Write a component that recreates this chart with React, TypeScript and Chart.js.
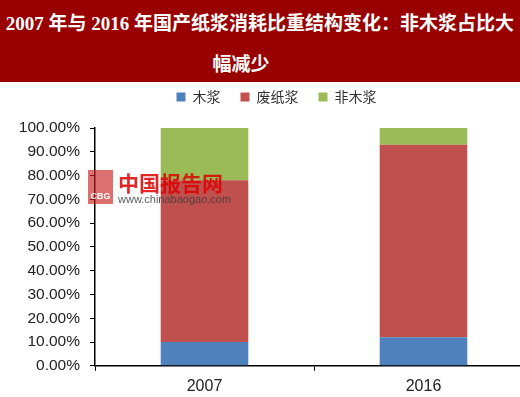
import React, { useEffect, useRef } from "react";
import { Chart, registerables } from "chart.js";

Chart.register(...registerables);

const categories = ["2007", "2016"];
const seriesNames = ["木浆", "废纸浆", "非木浆"];
const woodPulp = [10, 12];
const wastePaperPulp = [68, 81];
const nonWoodPulp = [22, 7];
const seriesColors = ["#4F81BD", "#C0504D", "#9BBB59"];
const titleLine1 = "2007 年与 2016 年国产纸浆消耗比重结构变化：非木浆占比大";
const titleLine2 = "幅减少";

const legendTweak = {
  id: "legendTweak",
  beforeInit(chart: any) {
    const legend = chart.legend;
    if (!legend) return;
    const origFit = legend.fit;
    legend.fit = function () {
      origFit.call(this);
      this.height += 14;
    };
  },
  afterLayout(chart: any) {
    const legend = chart.legend;
    if (!legend) return;
    legend.left += 10;
    legend.right += 10;
  },
};

export default function App() {
  const canvasRef = useRef<HTMLCanvasElement | null>(null);

  useEffect(() => {
    document.body.style.margin = "0";
    const ctx = canvasRef.current;
    if (!ctx) return;
    const chart = new Chart(ctx, {
      type: "bar",
      data: {
        labels: categories,
        datasets: [woodPulp, wastePaperPulp, nonWoodPulp].map((d, i) => ({
          label: seriesNames[i],
          data: d,
          backgroundColor: seriesColors[i],
          borderWidth: 0,
          barPercentage: 1,
          categoryPercentage: 0.4,
        })),
      },
      plugins: [legendTweak],
      options: {
        animation: false,
        responsive: false,
        maintainAspectRatio: false,
        layout: { padding: { top: 3, right: 2, bottom: 2, left: 0 } },
        plugins: {
          legend: {
            position: "top",
            labels: {
              boxWidth: 9,
              boxHeight: 9,
              padding: 20,
              color: "#333",
              font: { family: "'Noto Sans CJK SC'", size: 14 },
            },
          },
          tooltip: { enabled: false },
        },
        scales: {
          x: {
            stacked: true,
            grid: {
              display: true,
              drawOnChartArea: false,
              tickLength: 5,
              color: "#000",
              offset: true,
            },
            border: { color: "#000", width: 1.5 },
            ticks: {
              color: "#222",
              padding: 6,
              font: { family: "'Liberation Sans', Arial", size: 16 },
            },
          },
          y: {
            stacked: true,
            min: 0,
            max: 100,
            afterFit: (s: any) => {
              s.width = 95;
            },
            grid: {
              display: true,
              drawOnChartArea: false,
              tickLength: 5,
              color: "#000",
            },
            border: { color: "#000", width: 1.5 },
            ticks: {
              stepSize: 10,
              color: "#222",
              padding: 10,
              font: { family: "'Liberation Sans', Arial", size: 15.5 },
              callback: (v: any) => Number(v).toFixed(2) + "%",
            },
          },
        },
      },
    });
    return () => chart.destroy();
  }, []);

  return (
    <div style={{ position: "absolute", left: 0, top: 0, width: 520, height: 397, background: "#fff", overflow: "hidden" }}>
      <canvas ref={canvasRef} width={535} height={337} style={{ position: "absolute", left: 0, top: 67, width: 535, height: 337 }} />
      <div
        style={{
          position: "absolute",
          left: 0,
          top: 0,
          width: 520,
          height: 82,
          background: "#990000",
          color: "#fff",
          fontFamily: "'Liberation Serif', 'Noto Sans CJK SC', serif",
          fontWeight: "bold",
          fontSize: 19,
        }}
      >
        <div style={{ position: "absolute", top: 8, left: 0, width: 520, textAlign: "center", whiteSpace: "nowrap" }}>{titleLine1}</div>
        <div style={{ position: "absolute", top: 49, left: 0, width: 482, textAlign: "center", whiteSpace: "nowrap" }}>{titleLine2}</div>
      </div>
      <div style={{ position: "absolute", left: 88, top: 170, width: 25, height: 34, background: "rgba(200,30,30,0.75)", color: "#fff", fontSize: 9, fontWeight: "bold", fontFamily: "'Liberation Sans'", textAlign: "center", lineHeight: "52px", opacity: 0.85 }}>CBG</div>
      <div style={{ position: "absolute", left: 118, top: 170, color: "rgba(220,0,0,0.85)", fontSize: 21, fontWeight: "bold", fontFamily: "'Noto Sans CJK SC'", lineHeight: "24px", letterSpacing: 0 }}>中国报告网</div>
      <div style={{ position: "absolute", left: 118, top: 193, color: "rgba(60,60,60,0.85)", fontSize: 11, fontFamily: "'Liberation Sans'", lineHeight: "13px" }}>www.chinabaogao.com</div>
    </div>
  );
}
